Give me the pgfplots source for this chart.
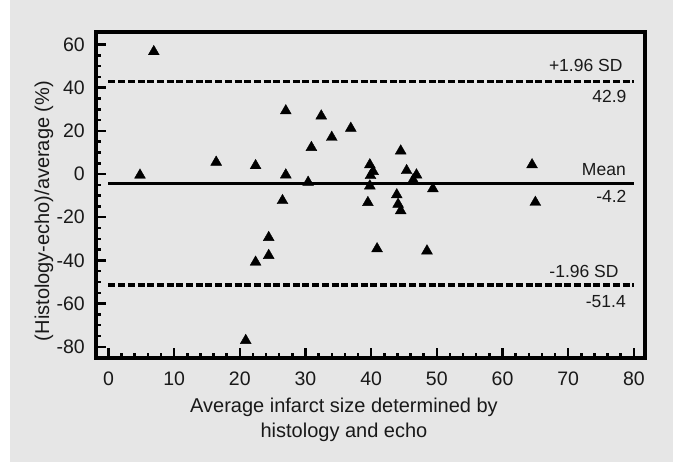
\documentclass[border=0pt]{standalone}
\usepackage{pgfplots}
\pgfplotsset{compat=1.18}
\usepackage{fontspec}
\setmainfont{Liberation Sans}
\definecolor{bg}{RGB}{230,230,230}
\definecolor{ink}{RGB}{25,25,25}
\begin{document}
\begin{tikzpicture}
\fill[white] (0,0) rectangle (675bp,462bp);
\fill[bg] (10bp,0) rectangle (673bp,462bp);
\begin{axis}[
  at={(96bp,104bp)}, anchor=south west,
  scale only axis, width=549bp, height=326bp,
  xmin=-1.9, xmax=81.7, ymin=-85.2, ymax=65.8,
  axis line style={line width=3.4bp, black},
  tick align=inside, tick pos=left,
  xtick={0,10,...,80}, ytick={-80,-60,...,60},
  minor x tick num=4, minor y tick num=3,
  major tick length=9.5bp, minor tick length=5bp,
  every tick/.style={line width=2.5bp, black},
  /pgf/number format/assume math mode=true,
  ticklabel style={font=\fontsize{19.5bp}{23bp}\selectfont, text=ink},
  xticklabel style={inner sep=0pt, anchor=north, yshift=-14bp},
  yticklabel style={inner sep=0pt, anchor=east, xshift=-11bp},
  clip=false,
]
\addplot[black, line width=3.2bp, dash pattern=on 7bp off 2.7bp] coordinates {(0,42.9) (80,42.9)};
\addplot[black, line width=3.2bp, dash pattern=on 7bp off 2.7bp] coordinates {(0,-51.4) (80,-51.4)};
\addplot[black, line width=2.8bp] coordinates {(0,-4.2) (80,-4.2)};
\addplot[only marks, mark=triangle*, mark size=6.3pt, black] coordinates {
(4.8,-0.5) (6.9,56.7) (16.4,5.5) (22.4,3.9) (27.0,29.3) (27.0,-0.4)
(30.9,12.3) (32.4,26.9) (34.0,17.0) (36.9,21.2) (44.5,10.7) (39.8,4.3)
(40.3,1.2) (39.9,-0.7) (39.8,-5.5) (45.4,1.6) (46.9,-0.4) (46.4,-2.7)
(49.4,-6.8) (39.5,-13.2) (43.9,-9.6) (44.1,-14.0) (44.5,-17.0) (40.9,-34.6)
(48.5,-35.6) (64.5,4.3) (65.0,-13.1) (26.5,-12.3) (24.4,-29.4) (24.4,-37.7)
(22.4,-40.8) (20.9,-77.1) (30.4,-3.8)
};
\begin{scope}[every node/.style={inner sep=0pt, anchor=base east, text=ink, font=\fontsize{17.5bp}{20bp}\selectfont}]
\node at (axis cs:78.3,47.4) {+1.96 SD};
\node at (axis cs:78.9,33.0) {42.9};
\node at (axis cs:78.8,-0.9) {Mean};
\node at (axis cs:78.9,-13.3) {-4.2};
\node at (axis cs:77.7,-48.1) {-1.96 SD};
\node at (axis cs:78.8,-62.0) {-51.4};
\end{scope}
\end{axis}
\begin{scope}[every node/.style={inner sep=0pt, text=ink, font=\fontsize{20bp}{23bp}\selectfont}]
\node[anchor=base] at (344bp,49bp) {Average infarct size determined by};
\node[anchor=base] at (344bp,25bp) {histology and echo};
\node[anchor=base, rotate=90] at (49bp,251bp) {(Histology-echo)/average (\%)};
\end{scope}
\pgfresetboundingbox
\path[use as bounding box] (0,0) rectangle (675bp,462bp);
\end{tikzpicture}
\end{document}
